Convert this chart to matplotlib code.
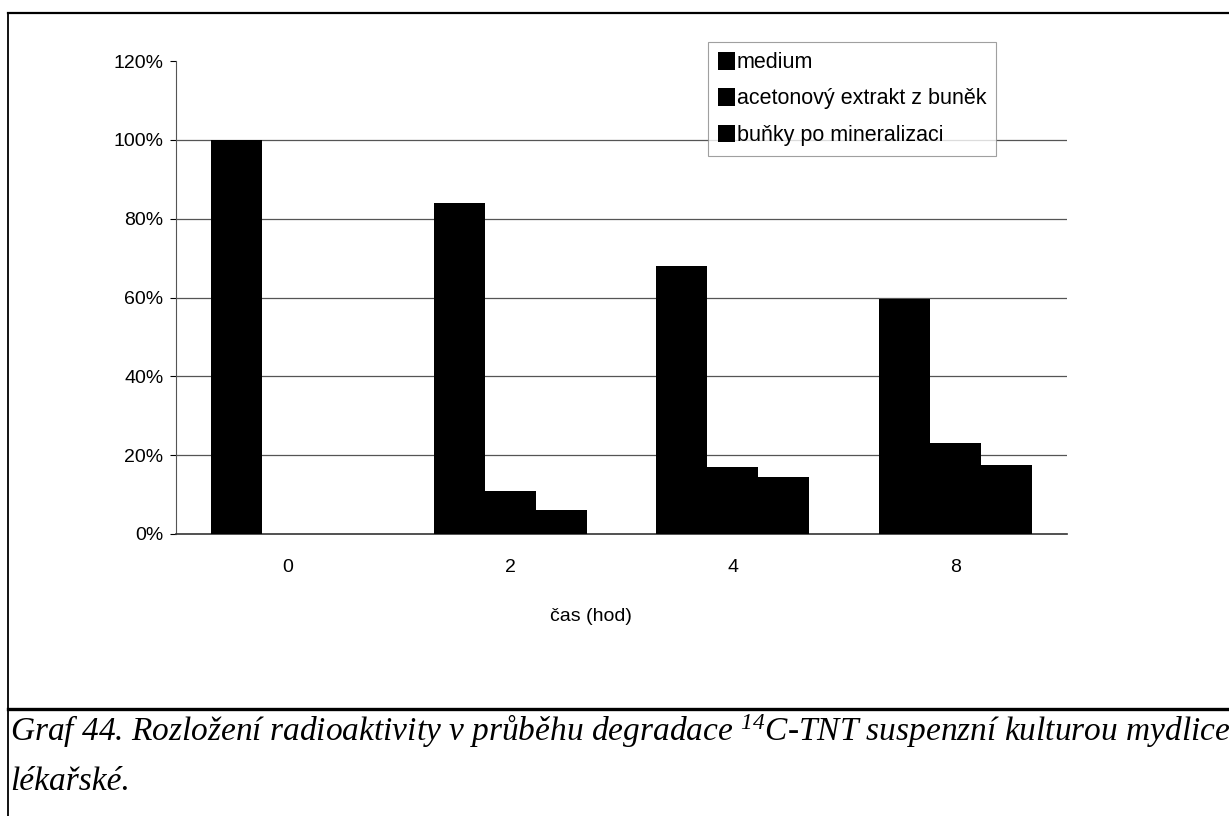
import numpy as np
import matplotlib
matplotlib.use("Agg")
from matplotlib import pyplot as plt
from matplotlib.ticker import PercentFormatter

plt.rcParams['font.family'] = ['Liberation Sans', 'DejaVu Sans']
plt.rcParams['mathtext.fontset'] = 'custom'
plt.rcParams['mathtext.rm'] = 'Liberation Serif:italic'
plt.rcParams['mathtext.it'] = 'Liberation Serif:italic'

# data (percent of radioactivity)
casy = ["0", "2", "4", "8"]
medium = [100, 84, 68, 59.5]
aceton = [0, 11, 17, 23]
bunky = [0, 6, 14.5, 17.5]
serie_nazvy = ["medium", "acetonový extrakt z buněk", "buňky po mineralizaci"]
caption1 = "Graf 44. Rozložení radioaktivity v průběhu degradace $^{14}$C-TNT suspenzní kulturou mydlice"
caption2 = "lékařské."

W, H = 1229, 816
fig = plt.figure(figsize=(W / 100, H / 100), dpi=100)

# frame lines of the scanned page
bg = fig.add_axes([0, 0, 1, 1])
bg.set_xlim(0, W)
bg.set_ylim(H, 0)
bg.axis("off")
bg.plot([8, 8], [13, H], color="black", lw=1.3)
bg.plot([8, W], [13, 13], color="black", lw=1.6)
bg.plot([8, W], [709, 709], color="black", lw=2.4)

ax = fig.add_axes([176 / W, 1 - 534 / H, (1067 - 176) / W, (534 - 61) / H])
x = np.arange(len(casy))
w = 0.229
for i, vals in enumerate([medium, aceton, bunky]):
    ax.bar(x + (i - 1) * w, vals, width=w, color="black", zorder=3, label=serie_nazvy[i])

ax.set_xlim(-0.5, 3.5)
ax.set_ylim(0, 120)
ax.set_yticks(range(0, 121, 20))
ax.yaxis.set_major_formatter(PercentFormatter(decimals=0))
for yv in range(20, 101, 20):
    ax.axhline(yv, color="#555555", lw=0.9, zorder=1)
ax.set_xticks(x)
ax.set_xticklabels(casy)
ax.tick_params(axis="x", length=0, pad=18, labelsize=14)
ax.tick_params(axis="y", length=4, width=0.8, pad=5, labelsize=14)
for s in ["top", "right"]:
    ax.spines[s].set_visible(False)
ax.spines["left"].set_color("#555555")
ax.spines["left"].set_linewidth(0.8)
ax.spines["bottom"].set_color("#333333")
ax.spines["bottom"].set_linewidth(1.2)
ax.set_xlabel("čas (hod)", fontsize=14)
ax.xaxis.set_label_coords((591 - 176) / (1067 - 176), -(608 - 534) / (534 - 61))

leg = ax.legend(loc="upper left", bbox_to_anchor=((708 - 176) / 891, 1 + (61 - 42) / 473),
                frameon=True, fontsize=15.5, handlelength=0.8, handleheight=0.9,
                handletextpad=0.1, labelspacing=0.7, borderpad=0.45, borderaxespad=0,
                fancybox=False)
leg.get_frame().set_edgecolor("#888888")
leg.get_frame().set_linewidth(0.8)

fig.text(10 / W, 1 - 731 / H, caption1, fontsize=24, family="Liberation Serif",
         style="italic", va="center", ha="left")
fig.text(10 / W, 1 - 782 / H, caption2, fontsize=24, family="Liberation Serif",
         style="italic", va="center", ha="left")

plt.savefig("out.png", dpi=100)
plt.close()
